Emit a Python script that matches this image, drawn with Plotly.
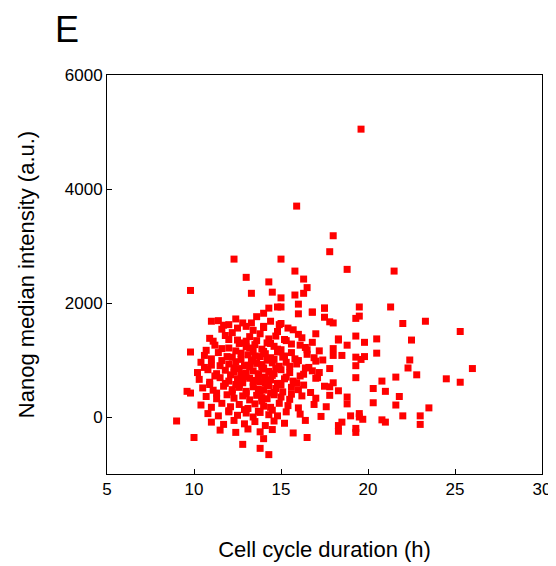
import plotly.graph_objects as go

# outlying cells
outer_x = [19.6, 15.9, 18.0, 17.8, 18.8, 21.5, 12.3, 15.0, 13.0, 14.3, 15.8, 16.3, 16.5, 9.8,
           13.3, 14.5, 15.0, 15.8, 16.3, 14.3, 14.8, 15.0, 16.0, 16.0, 16.8, 17.5, 17.5, 14.0,
           11.0, 9.8, 9.6, 9.8, 9.0, 10.0, 14.3, 13.8, 12.8, 14.0, 16.5, 18.3, 18.8, 18.3,
           17.8, 18.3, 21.3, 22.0, 23.3, 25.3, 22.5, 26.0, 24.5, 25.3, 23.5, 23.0, 23.0, 22.8,
           22.3, 22.4, 22.0, 21.6, 21.8, 21.6, 21.0, 20.8, 20.3, 20.3, 20.8, 21.0, 20.5, 20.5,
           19.8, 19.8, 19.6, 19.5, 19.5, 19.3, 19.3, 19.3, 19.3, 19.3, 18.8, 18.5, 18.3, 18.0,
           18.0, 17.5, 16.8, 18.0, 17.8, 17.0, 18.8, 19.0, 19.5, 19.5, 19.7, 19.3, 19.3, 18.5,
           18.0, 18.3, 17.8, 17.8, 17.2, 17.0]
outer_y = [5050, 3700, 3180, 2900, 2590, 2560, 2770, 2770, 2450, 2370, 2560, 2420, 2270, 2220,
           2170, 2190, 2090, 2140, 2170, 1910, 1930, 1930, 1980, 1810, 1840, 1910, 1750, 1820,
           1680, 1140, 450, 420, -70, -360, -660, -550, -480, -380, -360, -250, 350, 460,
           850, 1350, 1930, 1640, 1680, 1500, 1350, 850, 670, 610, 160, 20, -130, 740,
           860, 1000, 20, 210, 360, 700, 450, 630, 500, 250, -50, -90, 1370, 1120,
           1310, 1060, 1010, 1930, 1770, 1730, 1420, 1050, 900, 690, 1260, 1080, 1370, 1200,
           1080, 1910, 1840, 1650, 1670, 1460, 230, 20, 60, 0, -40, -200, -270, -90,
           600, -150, 530, 380, 780, 680]

# dense core of the cloud, estimated row by row
core_x = [11.4, 12.0, 12.4, 12.8, 13.6, 14.4, 15.0,
          11.6, 12.2, 13.0, 13.4, 14.0, 14.8, 15.4, 16.0,
          10.9, 11.8, 12.5, 13.2, 13.8, 14.3, 14.7, 15.3, 16.2, 16.8,
          11.2, 12.0, 12.6, 13.0, 13.5, 13.9, 14.2, 14.6, 15.0, 15.6, 16.4, 17.2,
          10.6, 11.4, 12.2, 12.7, 13.1, 13.4, 13.8, 14.1, 14.4, 14.8, 15.2, 15.8, 16.5, 17.4,
          10.4, 11.0, 11.6, 12.0, 12.4, 12.9, 13.3, 13.6, 13.9, 14.2, 14.5, 14.9, 15.3, 15.9, 16.6, 17.0,
          10.2, 10.8, 11.3, 11.8, 12.3, 12.6, 13.0, 13.4, 13.7, 14.0, 14.3, 14.6, 15.0, 15.5, 16.1, 16.8,
          10.3, 10.9, 11.5, 12.0, 12.5, 12.8, 13.2, 13.5, 13.8, 14.1, 14.4, 14.8, 15.2, 15.7, 16.3, 17.1,
          10.5, 11.1, 11.7, 12.2, 12.6, 13.0, 13.4, 13.7, 14.0, 14.3, 14.7, 15.1, 15.6, 16.0, 16.7, 17.5,
          10.7, 11.3, 11.9, 12.3, 12.8, 13.2, 13.6, 13.9, 14.2, 14.6, 15.0, 15.5, 16.2, 17.0,
          10.4, 11.0, 11.6, 12.1, 12.6, 13.1, 13.5, 14.0, 14.4, 14.9, 15.4, 16.0, 16.9, 17.6,
          10.8, 11.4, 12.0, 12.5, 13.0, 13.4, 13.8, 14.3, 14.8, 15.3, 16.1, 17.3,
          11.0, 11.7, 12.3, 12.9, 13.5, 14.1, 14.6, 15.2, 16.4,
          11.5, 12.4, 13.1, 13.8, 14.5, 15.7,
          13.2, 13.7, 14.1, 14.6, 12.7, 13.4, 14.0, 14.4, 13.0, 13.9, 12.4, 14.8,
          # second pass filling gaps in the densest part
          11.7, 12.5, 13.3, 14.0, 14.9, 15.7,
          11.1, 12.0, 12.8, 13.6, 14.4, 15.2, 16.1,
          10.7, 11.6, 12.4, 13.2, 14.0, 14.8, 15.6, 16.5,
          11.0, 11.9, 12.7, 13.5, 14.3, 15.1, 16.0, 16.9,
          10.6, 11.5, 12.3, 13.1, 13.9, 14.7, 15.5, 16.4,
          11.2, 12.1, 12.9, 13.7, 14.5, 15.3, 16.3,
          10.9, 11.8, 12.6, 13.4, 14.2, 15.0, 15.9,
          11.3, 12.2, 13.0, 13.8, 14.6, 15.6,
          12.0, 12.9, 13.7, 14.5]
core_y = [1690, 1620, 1720, 1650, 1760, 1680, 1640,
          1540, 1480, 1590, 1520, 1570, 1500, 1560, 1450,
          1380, 1430, 1350, 1410, 1460, 1370, 1420, 1340, 1390, 1310,
          1260, 1210, 1290, 1230, 1270, 1190, 1300, 1240, 1180, 1280, 1220, 1160,
          1080, 1130, 1050, 1120, 1090, 1150, 1060, 1110, 1040, 1140, 1070, 1020, 1100, 1000,
          960, 910, 990, 930, 970, 900, 980, 940, 920, 1000, 950, 890, 960, 930, 870, 980,
          780, 830, 760, 820, 790, 850, 770, 810, 740, 840, 800, 760, 830, 780, 720, 810,
          660, 610, 690, 630, 670, 600, 680, 640, 620, 700, 650, 590, 670, 630, 560, 690,
          510, 470, 540, 480, 520, 450, 530, 490, 470, 550, 500, 440, 520, 480, 430, 540,
          360, 320, 390, 330, 370, 300, 380, 340, 320, 390, 350, 310, 370, 330,
          210, 170, 240, 180, 220, 150, 230, 190, 170, 240, 200, 160, 220, 180,
          60, 20, 90, 30, 70, 0, 80, 40, 20, 90, 50, 10,
          -90, -130, -60, -120, -80, -150, -70, -110, -60,
          -230, -270, -210, -260, -220, -280,
          880, 720, 590, 1010, 760, 1000, 860, 420, 1330, 280, 570, 1180,
          1610, 1560, 1650, 1590, 1620, 1530,
          1330, 1360, 1300, 1340, 1290, 1360, 1260,
          1170, 1200, 1160, 1210, 1150, 1190, 1130, 1180,
          1020, 1060, 1010, 1070, 1000, 1050, 990, 1040,
          870, 900, 860, 910, 880, 850, 890, 860,
          720, 740, 710, 760, 730, 700, 750,
          570, 590, 560, 610, 580, 560, 600,
          420, 440, 410, 450, 430, 400,
          110, 130, 100, 120]

fig = go.Figure(go.Scatter(
    x=outer_x + core_x, y=outer_y + core_y, mode="markers",
    marker=dict(symbol="square", size=7, color="#ff0000"),
    hoverinfo="skip"))

axis = dict(showline=True, linecolor="black", linewidth=1, mirror=True, showgrid=False,
            zeroline=False, ticks="inside", ticklen=5, tickcolor="black", automargin=False,
            tickfont=dict(size=17, color="black"))
# the page adds an 8px body margin, so the figure is a little smaller than the window
fig.update_layout(
    width=548, height=558, plot_bgcolor="white", paper_bgcolor="white",
    margin=dict(l=99, r=14, t=67, b=92), showlegend=False,
    font=dict(family="Liberation Sans, Arial, sans-serif", color="black"),
    xaxis=dict(axis, range=[5, 30], tickvals=[5, 10, 15, 20, 25, 30],
               title=dict(text="Cell cycle duration (h)", font=dict(size=22), standoff=43)),
    yaxis=dict(axis, range=[-1000, 6000], tickvals=[0, 2000, 4000, 6000],
               title=dict(text="Nanog median intensity (a.u.)", font=dict(size=22), standoff=24)),
    annotations=[dict(text="E", x=-0.125, y=1.17, xref="paper", yref="paper",
                      xanchor="left", yanchor="top", showarrow=False, font=dict(size=36))])
fig.write_html("out.html")
